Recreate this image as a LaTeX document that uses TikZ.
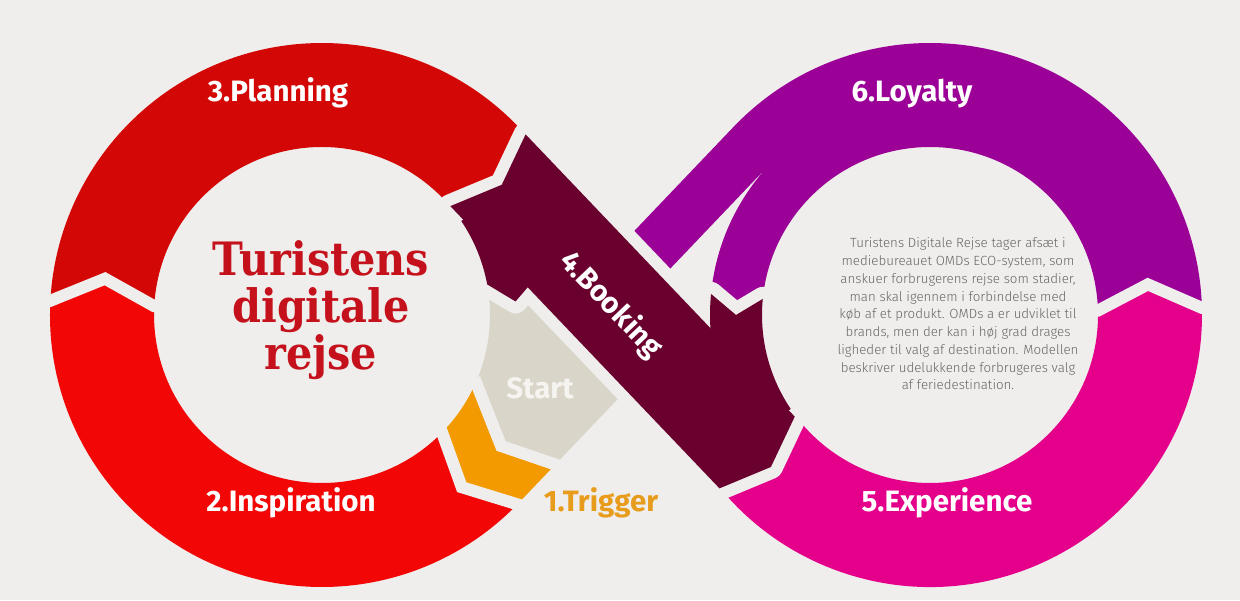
\documentclass[tikz,border=0pt]{standalone}
\usepackage{fontspec}
\usetikzlibrary{calc}
\setmainfont{Fira Sans}
\IfFontExistsTF{DejaVu Serif Condensed}
  {\newfontfamily\titlefont{DejaVu Serif Condensed}}
  {\newfontfamily\titlefont{DejaVu Serif}[FakeStretch=0.88]}
\IfFontExistsTF{Fira Sans Light}
  {\newfontfamily\parafont{Fira Sans Light}}
  {\newfontfamily\parafont{Fira Sans}}
\definecolor{bg}{HTML}{EFEEEC}
\definecolor{planc}{HTML}{D40707}
\definecolor{inspc}{HTML}{F20606}
\definecolor{bookc}{HTML}{6A002E}
\definecolor{expc}{HTML}{E5008B}
\definecolor{loyc}{HTML}{9B0097}
\definecolor{trigc}{HTML}{F29A00}
\definecolor{trigtext}{HTML}{E89C1C}
\definecolor{startc}{HTML}{DAD5C9}
\definecolor{starttext}{HTML}{F6F4F0}
\definecolor{titlec}{HTML}{C4111C}
\definecolor{parac}{HTML}{666666}
\tikzset{
  gapline/.style={draw=bg, line width=12pt, line join=miter, line cap=butt},
  bookgap/.style={draw=bg, line width=24pt, line join=round, line cap=round},
  stagelabel/.style={font=\bfseries\fontsize{29.5}{31}\selectfont, text=white, inner sep=0pt, anchor=base},
  titleline/.style={font=\titlefont\bfseries\fontsize{46}{47}\selectfont, text=titlec, inner sep=0pt, anchor=base},
}
\begin{document}
\begin{tikzpicture}[x=1pt,y=1pt]
\fill[bg] (0,0) rectangle (1240,600);
\useasboundingbox (0,0) rectangle (1240,600);
% ring centres
\coordinate (C1) at (322,285);
\coordinate (C2) at (930,285);
% band A (booking strand)
\begin{scope}[shift={(626,285)},rotate=-46.36]
  \coordinate (Abo) at (-200,52);
  \coordinate (Aba) at (-180,0);
  \coordinate (Abi) at (-200,-52);
  \coordinate (Afi) at (190,-52);
  \coordinate (Afa) at (210,0);
  \coordinate (Afo) at (190,52);
  \coordinate (Apl1) at (-150,-52);
  \coordinate (Apl2) at (-150,52);
  \coordinate (Atext) at (-18,-4);
\end{scope}
% band B (trigger / start / loyalty strand)
\begin{scope}[shift={(626,285)},rotate=46.36]
  \coordinate (Btio) at (-212,-52);
  \coordinate (Btia) at (-238,0);
  \coordinate (Btii) at (-212,52);
  \coordinate (Btso) at (-157,-52);
  \coordinate (Btsa) at (-181,0);
  \coordinate (Btsi) at (-157,52);
  \coordinate (Bsti) at (-40,52);
  \coordinate (Bsto) at (-40,-52);
  \coordinate (Blym) at (30,0);
  \coordinate (Blyo) at (30,52);
  \coordinate (G1a) at (-205,-66);
  \coordinate (G1b) at (-205,66);
  \coordinate (G2a) at (-150.5,-66);
  \coordinate (G2b) at (-150.5,66);
\end{scope}
% ring 1 points
\coordinate (IPo) at ($(C1)+(177:272)$);
\coordinate (IPa) at ($(C1)+(170.5:220)$);
\coordinate (IPi) at ($(C1)+(177:168)$);
\coordinate (IPo2) at ($(C1)+(177:286)$);
\coordinate (IPi2) at ($(C1)+(177:154)$);
\coordinate (PLo) at ($(C1)+(43.64:272)$);
\coordinate (K1a) at ($(C1)+(34:168)$);
\coordinate (K1t) at ($(C1)+(4:194)$);
\coordinate (K1b) at ($(C1)+(10.5:220)$);
\coordinate (STi) at ($(C1)+(-24.18:168)$);
\coordinate (STm) at ($(C1)+(15:220)$);
% ring 2 points
\coordinate (ELo) at ($(C2)+(1.5:272)$);
\coordinate (ELa) at ($(C2)+(8:220)$);
\coordinate (ELi) at ($(C2)+(1.5:168)$);
\coordinate (ELo2) at ($(C2)+(1.5:286)$);
\coordinate (ELi2) at ($(C2)+(1.5:154)$);
\coordinate (LYm) at ($(C2)+(174.5:220)$);
\coordinate (LYt) at ($(C2)+(180:194)$);
\coordinate (LYi) at ($(C2)+(174.5:168)$);
\coordinate (LYo) at ($(C2)+(136.36:272)$);
\coordinate (K2b) at ($(C2)+(214:220)$);
\coordinate (EXs) at ($(C2)+(205:272)$);
\coordinate (EXa) at ($(C2)+(368:220)$);

% 2.Inspiration
\fill[inspc] (Btio) -- (Btia) -- (Btii) arc[start angle=-44.39, end angle=-183, radius=168pt]
  -- (IPa) -- (IPo) arc[start angle=177, end angle=315.9, radius=272pt] -- cycle;
% 3.Planning
\fill[planc] (IPo) -- (IPa) -- (IPi) arc[start angle=177, end angle=43.64, radius=168pt]
  -- (Apl1) -- (Apl2) -- (PLo) arc[start angle=43.64, end angle=177, radius=272pt] -- cycle;
% 5.Experience
\fill[expc] (EXs) arc[start angle=205, end angle=361.5, radius=272pt] -- (EXa) -- (ELi)
  arc[start angle=361.5, end angle=205, radius=168pt] -- cycle;
% 6.Loyalty
\fill[loyc] (ELo) -- (ELa) -- (ELi) arc[start angle=1.5, end angle=174.5, radius=168pt]
  -- (LYt) -- (LYm) arc[start angle=174.5, end angle=136.36, radius=220pt]
  -- (Blym) -- (Blyo) -- (LYo) arc[start angle=136.36, end angle=1.5, radius=272pt] -- cycle;
% 1.Trigger
\fill[trigc] (Btio) -- (Btia) -- (Btii) arc[start angle=-44.39, end angle=-24.18, radius=168pt]
  -- (Btsi) -- (Btsa) -- (Btso) -- cycle;
% Start
\fill[startc] (STi) arc[start angle=-24.18, end angle=15, radius=168pt] -- (STm) -- (Bsti) -- (Bsto)
  -- (Btso) -- (Btsa) -- (Btsi) -- cycle;

% gaps between consecutive stages
\draw[gapline] (IPo2) -- (IPo) -- (IPa) -- (IPi) -- (IPi2);
\draw[gapline] (ELo2) -- (ELo) -- (ELa) -- (ELi) -- (ELi2);
\draw[gapline] (G1a) -- (Btio) -- (Btia) -- (Btii) -- (G1b);
\draw[gapline] (G2a) -- (Btso) -- (Btsa) -- (Btsi) -- (G2b);

% 4.Booking (crossing strand), with its gap
\draw[bookgap] (Abo) -- (Aba) -- (Abi) -- (Afi) -- (Afa) -- (Afo) -- cycle
  (K1a) arc[start angle=34, end angle=10.5, radius=168pt] -- (K1t) -- (K1b) arc[start angle=10.5, end angle=34, radius=220pt] -- cycle
  (LYm) -- (LYt) -- (LYi) arc[start angle=174.5, end angle=214, radius=168pt] -- (K2b) arc[start angle=214, end angle=174.5, radius=220pt] -- cycle;
\fill[bookc] (Abo) -- (Aba) -- (Abi) -- (Afi) -- (Afa) -- (Afo) -- cycle;
\fill[bookc] (K1a) arc[start angle=34, end angle=10.5, radius=168pt] -- (K1t) -- (K1b) arc[start angle=10.5, end angle=34, radius=220pt] -- cycle;
\fill[bookc] (LYm) -- (LYt) -- (LYi) arc[start angle=174.5, end angle=214, radius=168pt] -- (K2b) arc[start angle=214, end angle=174.5, radius=220pt] -- cycle;

% labels
\node[stagelabel] (planning) at (278,498) {3.Planning};
\node[stagelabel] (loyalty) at (912,498) {6.Loyalty};
\node[stagelabel] (inspiration) at (291,88) {2.Inspiration};
\node[stagelabel] (experience) at (947,88) {5.Experience};
\node[stagelabel, text=trigtext] (trigger) at (601,88) {1.Trigger};
\node[stagelabel, text=starttext, anchor=center] (start) at (540,212) {Start};
\node[stagelabel, anchor=center, rotate=-46.36] (booking) at (Atext) {4.Booking};
\node[titleline] (title1) at (321,324) {Turistens};
\node[titleline] (title2) at (321,277) {digitale};
\node[titleline] (title3) at (321,230) {rejse};
\node[font=\parafont\fontsize{13.3}{17.75}\selectfont, text=parac, align=center, inner sep=0pt] (para) at (958,286)
  {Turistens Digitale Rejse tager afsæt i\\
   mediebureauet OMDs ECO-system, som\\
   anskuer forbrugerens rejse som stadier,\\
   man skal igennem i forbindelse med\\
   køb af et produkt. OMDs a er udviklet til\\
   brands, men der kan i høj grad drages\\
   ligheder til valg af destination. Modellen\\
   beskriver udelukkende forbrugeres valg\\
   af feriedestination.};
\end{tikzpicture}
\end{document}
